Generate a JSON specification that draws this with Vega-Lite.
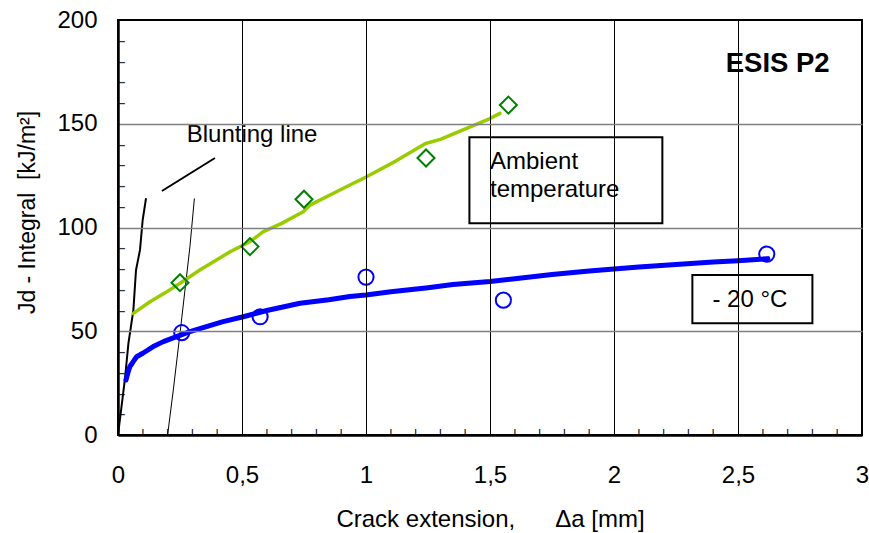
{
  "$schema": "https://vega.github.io/schema/vega-lite/v6.json",
  "width": 744,
  "height": 415,
  "autosize": {"type": "none"},
  "padding": {"left": 118, "top": 20, "right": 7, "bottom": 98},
  "background": "white",
  "config": {
    "view": {"stroke": "black", "strokeWidth": 2},
    "font": "Liberation Sans",
    "text": {"font": "Liberation Sans"}
  },
  "resolve": {"scale": {"color": "independent", "strokeWidth": "independent", "size": "independent", "shape": "independent"}},
  "datasets": {
    "bg": [
      {"x": 0.113, "x2": 0.985, "y": 132.5, "y2": 155.4},
      {"x": 2.41, "x2": 2.91, "y": 169.2, "y2": 193.3}
    ],
    "minor": [
      {"kind": "x", "x": 0.1, "y": 0}, {"kind": "x", "x": 0.2, "y": 0}, {"kind": "x", "x": 0.3, "y": 0}, {"kind": "x", "x": 0.4, "y": 0},
      {"kind": "x", "x": 0.6, "y": 0}, {"kind": "x", "x": 0.7, "y": 0}, {"kind": "x", "x": 0.8, "y": 0}, {"kind": "x", "x": 0.9, "y": 0},
      {"kind": "x", "x": 1.1, "y": 0}, {"kind": "x", "x": 1.2, "y": 0}, {"kind": "x", "x": 1.3, "y": 0}, {"kind": "x", "x": 1.4, "y": 0},
      {"kind": "x", "x": 1.6, "y": 0}, {"kind": "x", "x": 1.7, "y": 0}, {"kind": "x", "x": 1.8, "y": 0}, {"kind": "x", "x": 1.9, "y": 0},
      {"kind": "x", "x": 2.1, "y": 0}, {"kind": "x", "x": 2.2, "y": 0}, {"kind": "x", "x": 2.3, "y": 0}, {"kind": "x", "x": 2.4, "y": 0},
      {"kind": "x", "x": 2.6, "y": 0}, {"kind": "x", "x": 2.7, "y": 0}, {"kind": "x", "x": 2.8, "y": 0}, {"kind": "x", "x": 2.9, "y": 0},
      {"kind": "y", "x": 0, "y": 10}, {"kind": "y", "x": 0, "y": 20}, {"kind": "y", "x": 0, "y": 30}, {"kind": "y", "x": 0, "y": 40},
      {"kind": "y", "x": 0, "y": 60}, {"kind": "y", "x": 0, "y": 70}, {"kind": "y", "x": 0, "y": 80}, {"kind": "y", "x": 0, "y": 90},
      {"kind": "y", "x": 0, "y": 110}, {"kind": "y", "x": 0, "y": 120}, {"kind": "y", "x": 0, "y": 130}, {"kind": "y", "x": 0, "y": 140},
      {"kind": "y", "x": 0, "y": 160}, {"kind": "y", "x": 0, "y": 170}, {"kind": "y", "x": 0, "y": 180}, {"kind": "y", "x": 0, "y": 190}
    ],
    "blunt": [
      {"line": "thick", "x": 0.0, "y": 0},
      {"line": "thick", "x": 0.028, "y": 27},
      {"line": "thick", "x": 0.042, "y": 44.2},
      {"line": "thick", "x": 0.062, "y": 60.2},
      {"line": "thick", "x": 0.0726, "y": 79.5},
      {"line": "thick", "x": 0.0887, "y": 89.2},
      {"line": "thick", "x": 0.0995, "y": 103.6},
      {"line": "thick", "x": 0.113, "y": 114.1},
      {"line": "thin", "x": 0.2, "y": 0},
      {"line": "thin", "x": 0.223, "y": 21.7},
      {"line": "thin", "x": 0.25, "y": 49},
      {"line": "thin", "x": 0.29, "y": 90.7},
      {"line": "thin", "x": 0.308, "y": 114}
    ],
    "pointer": [
      {"x": 0.177, "y": 117.6, "x2": 0.391, "y2": 133.5}
    ],
    "curves": [
      {"series": "minus20", "x": 0.032, "y": 26.5},
      {"series": "minus20", "x": 0.04, "y": 30},
      {"series": "minus20", "x": 0.048, "y": 33},
      {"series": "minus20", "x": 0.055, "y": 34.2},
      {"series": "minus20", "x": 0.062, "y": 35.5},
      {"series": "minus20", "x": 0.075, "y": 37.7},
      {"series": "minus20", "x": 0.1, "y": 39.4},
      {"series": "minus20", "x": 0.142, "y": 42.6},
      {"series": "minus20", "x": 0.183, "y": 45},
      {"series": "minus20", "x": 0.236, "y": 47.4},
      {"series": "minus20", "x": 0.29, "y": 49.8},
      {"series": "minus20", "x": 0.35, "y": 52},
      {"series": "minus20", "x": 0.42, "y": 54.5},
      {"series": "minus20", "x": 0.505, "y": 57},
      {"series": "minus20", "x": 0.6, "y": 60},
      {"series": "minus20", "x": 0.734, "y": 63.5},
      {"series": "minus20", "x": 0.85, "y": 65.2},
      {"series": "minus20", "x": 0.935, "y": 66.7},
      {"series": "minus20", "x": 1.0, "y": 67.5},
      {"series": "minus20", "x": 1.1, "y": 69},
      {"series": "minus20", "x": 1.25, "y": 71},
      {"series": "minus20", "x": 1.35, "y": 72.5},
      {"series": "minus20", "x": 1.5, "y": 74},
      {"series": "minus20", "x": 1.6, "y": 75.3},
      {"series": "minus20", "x": 1.75, "y": 77.3},
      {"series": "minus20", "x": 1.9, "y": 79},
      {"series": "minus20", "x": 2.0, "y": 80},
      {"series": "minus20", "x": 2.1, "y": 81},
      {"series": "minus20", "x": 2.25, "y": 82.2},
      {"series": "minus20", "x": 2.4, "y": 83.4},
      {"series": "minus20", "x": 2.5, "y": 84},
      {"series": "minus20", "x": 2.62, "y": 85},
      {"series": "ambient", "x": 0.062, "y": 58.6},
      {"series": "ambient", "x": 0.129, "y": 64.2},
      {"series": "ambient", "x": 0.19, "y": 68.5},
      {"series": "ambient", "x": 0.25, "y": 73.1},
      {"series": "ambient", "x": 0.33, "y": 79.5},
      {"series": "ambient", "x": 0.452, "y": 88.3},
      {"series": "ambient", "x": 0.532, "y": 93.2},
      {"series": "ambient", "x": 0.586, "y": 98},
      {"series": "ambient", "x": 0.66, "y": 102},
      {"series": "ambient", "x": 0.747, "y": 107.6},
      {"series": "ambient", "x": 0.774, "y": 110.8},
      {"series": "ambient", "x": 0.935, "y": 120.5},
      {"series": "ambient", "x": 1.0, "y": 124.3},
      {"series": "ambient", "x": 1.12, "y": 132},
      {"series": "ambient", "x": 1.24, "y": 140.5},
      {"series": "ambient", "x": 1.3, "y": 142.5},
      {"series": "ambient", "x": 1.42, "y": 148.5},
      {"series": "ambient", "x": 1.5, "y": 152.5},
      {"series": "ambient", "x": 1.54, "y": 155}
    ],
    "points": [
      {"series": "ambient", "x": 0.25, "y": 73.4},
      {"series": "ambient", "x": 0.532, "y": 90.8},
      {"series": "ambient", "x": 0.75, "y": 113.6},
      {"series": "ambient", "x": 1.242, "y": 133.5},
      {"series": "ambient", "x": 1.574, "y": 159},
      {"series": "minus20", "x": 0.257, "y": 49.3},
      {"series": "minus20", "x": 0.573, "y": 57},
      {"series": "minus20", "x": 1.0, "y": 76.1},
      {"series": "minus20", "x": 1.554, "y": 65},
      {"series": "minus20", "x": 2.616, "y": 87.2}
    ],
    "boxes": [
      {"x": 1.417, "x2": 2.195, "y": 102, "y2": 143.5},
      {"x": 2.316, "x2": 2.8, "y": 53.8, "y2": 77.1}
    ],
    "leftText": [
      {"x": 0.277, "y": 141.3, "text": "Blunting line"},
      {"x": 1.5, "y": 128, "text": "Ambient"},
      {"x": 1.5, "y": 114.6, "text": "temperature"}
    ],
    "centerText": [
      {"x": 2.548, "y": 65, "text": "- 20 °C"}
    ],
    "boldText": [
      {"x": 2.66, "y": 175.1, "text": "ESIS P2"}
    ]
  },
  "encoding": {
    "x": {
      "field": "x",
      "type": "quantitative",
      "scale": {"domain": [0, 3], "nice": false, "zero": false},
      "axis": {
        "values": [0, 0.5, 1, 1.5, 2, 2.5, 3],
        "title": "Crack extension,\u00a0\u00a0\u00a0\u00a0\u00a0\u00a0Δa [mm]",
        "titleFont": "Liberation Sans",
        "titleFontSize": 24,
        "titleFontWeight": "normal",
        "titleColor": "black",
        "titleBaseline": "alphabetic",
        "titleY": 91,
        "grid": true,
        "gridColor": "black",
        "gridWidth": 1,
        "gridOpacity": {"condition": {"test": "datum.value > 0 && datum.value < 3", "value": 1}, "value": 0},
        "ticks": false,
        "domainColor": "black",
        "domainWidth": 2.5,
        "labelExpr": "replace(toString(datum.value), '.', ',')",
        "labelFont": "Liberation Sans",
        "labelFontSize": 24,
        "labelColor": "black",
        "labelPadding": 28,
        "labelFlush": false,
        "labelOverlap": false,
        "labelBound": false,
        "zindex": 1
      }
    },
    "y": {
      "field": "y",
      "type": "quantitative",
      "scale": {"domain": [0, 200], "nice": false, "zero": false},
      "axis": {
        "values": [0, 50, 100, 150, 200],
        "title": "Jd - Integral\u00a0\u00a0[kJ/m²]",
        "titleFont": "Liberation Sans",
        "titleFontSize": 23,
        "titleFontWeight": "normal",
        "titleColor": "black",
        "titleBaseline": "alphabetic",
        "titleX": -84,
        "titleY": 192,
        "titleAngle": -90,
        "grid": true,
        "gridColor": "#808080",
        "gridWidth": 1.5,
        "gridOpacity": {"condition": {"test": "datum.value > 0 && datum.value < 200", "value": 1}, "value": 0},
        "ticks": false,
        "domainColor": "black",
        "domainWidth": 2.5,
        "labelFont": "Liberation Sans",
        "labelFontSize": 24,
        "labelColor": "black",
        "labelPadding": 21,
        "labelFlush": false,
        "labelOverlap": false,
        "labelBound": false,
        "zindex": 1
      }
    }
  },
  "layer": [
    {
      "data": {"name": "bg"},
      "mark": {"type": "rect", "fill": "white", "stroke": null},
      "encoding": {"x2": {"field": "x2"}, "y2": {"field": "y2"}}
    },
    {
      "data": {"name": "minor"},
      "transform": [{"filter": "datum.kind === 'x'"}],
      "mark": {"type": "text", "text": "|", "align": "center", "baseline": "bottom", "dy": 1, "fontSize": 8, "fontWeight": "bold", "color": "black", "font": "Liberation Sans"}
    },
    {
      "data": {"name": "minor"},
      "transform": [{"filter": "datum.kind === 'y'"}],
      "mark": {"type": "text", "text": "–", "align": "left", "baseline": "middle", "dx": 0, "fontSize": 13, "fontWeight": "bold", "color": "#333333", "font": "Liberation Sans"}
    },
    {
      "data": {"name": "blunt"},
      "mark": {"type": "line", "color": "black"},
      "encoding": {
        "detail": {"field": "line"},
        "strokeWidth": {"field": "line", "type": "nominal", "scale": {"domain": ["thick", "thin"], "range": [2, 1]}, "legend": null}
      }
    },
    {
      "data": {"name": "pointer"},
      "mark": {"type": "rule", "color": "black", "strokeWidth": 2},
      "encoding": {"x2": {"field": "x2"}, "y2": {"field": "y2"}}
    },
    {
      "data": {"name": "curves"},
      "mark": {"type": "line", "strokeCap": "round", "strokeJoin": "round"},
      "encoding": {
        "color": {"field": "series", "type": "nominal", "scale": {"domain": ["ambient", "minus20"], "range": ["#99cc00", "#0000ff"]}, "legend": null},
        "strokeWidth": {"field": "series", "type": "nominal", "scale": {"domain": ["ambient", "minus20"], "range": [3.5, 5]}, "legend": null}
      }
    },
    {
      "data": {"name": "points"},
      "mark": {"type": "point", "filled": false, "strokeWidth": 2, "opacity": 1},
      "encoding": {
        "shape": {"field": "series", "type": "nominal", "scale": {"domain": ["ambient", "minus20"], "range": ["diamond", "circle"]}, "legend": null},
        "color": {"field": "series", "type": "nominal", "scale": {"domain": ["ambient", "minus20"], "range": ["#008000", "#0000ff"]}, "legend": null},
        "size": {"field": "series", "type": "nominal", "scale": {"domain": ["ambient", "minus20"], "range": [290, 230]}, "legend": null}
      }
    },
    {
      "data": {"name": "boxes"},
      "mark": {"type": "rect", "fill": "white", "stroke": "black", "strokeWidth": 2},
      "encoding": {"x2": {"field": "x2"}, "y2": {"field": "y2"}}
    },
    {
      "data": {"name": "leftText"},
      "mark": {"type": "text", "align": "left", "baseline": "alphabetic", "fontSize": 24, "color": "black", "font": "Liberation Sans"},
      "encoding": {"text": {"field": "text"}}
    },
    {
      "data": {"name": "centerText"},
      "mark": {"type": "text", "align": "center", "baseline": "middle", "fontSize": 24, "color": "black", "font": "Liberation Sans"},
      "encoding": {"text": {"field": "text"}}
    },
    {
      "data": {"name": "boldText"},
      "mark": {"type": "text", "align": "center", "baseline": "alphabetic", "fontSize": 27.5, "fontWeight": "bold", "color": "black", "font": "Liberation Sans"},
      "encoding": {"text": {"field": "text"}}
    }
  ]
}
